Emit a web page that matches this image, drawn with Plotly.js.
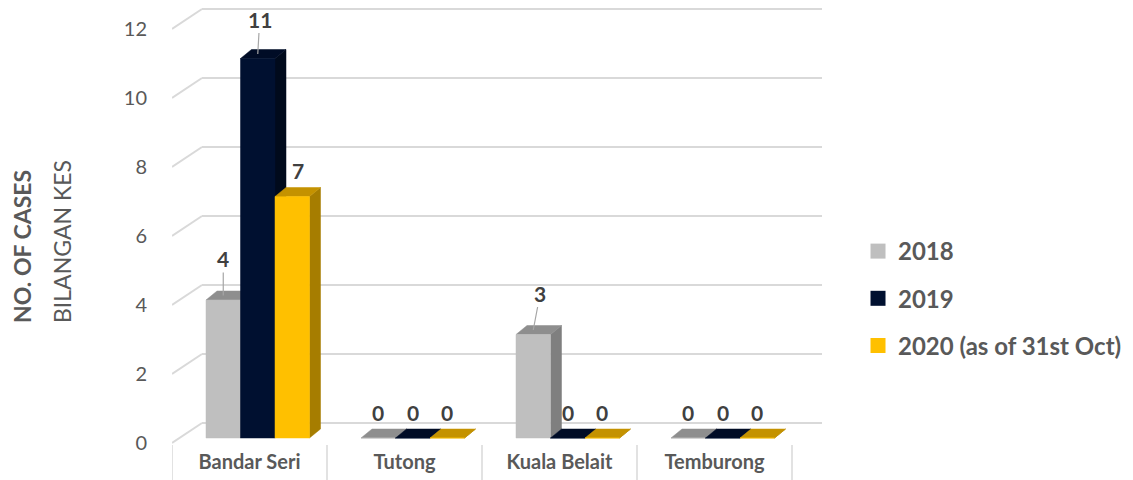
<!DOCTYPE html>
<html><head><meta charset="utf-8">
<script src="https://cdn.plot.ly/plotly-3.0.1.min.js"></script>
<style>html,body{margin:0;padding:0;background:#fff}#chart{width:1133px;height:480px}</style>
</head><body><div id="chart"></div>
<script>
// ---- data ----
const categories = ['Bandar Seri', 'Tutong', 'Kuala Belait', 'Temburong'];
const seriesNames = ['2018', '2019', '2020 (as of 31st Oct)'];
const values2018 = [4, 0, 3, 0];
const values2019 = [11, 0, 0, 0];
const values2020 = [7, 0, 0, 0];
const yTickValues = [0, 2, 4, 6, 8, 10, 12];

// ---- styling ----
const seriesValues = [values2018, values2019, values2020];
const colors = [
  {front: '#BFBFBF', top: '#8E8E8E', side: '#7F7F7F'},
  {front: '#001030', top: '#000C26', side: '#000A1C'},
  {front: '#FFC000', top: '#C49200', side: '#A67D00'}
];
const FONT = 'Lato, "Open Sans", sans-serif';
const PXX = 155, PXY = 34.5;           // pixels per data unit
const BAR_W = 34.5 / PXX;
const FIRST_LEFT = -0.2806;
const BDX = 11 / PXX, BDY = 9 / PXY;    // bar depth
const WALL_DX = 30 / PXX;
const FRONT_Y0 = -5 / PXY, BACK_Y0 = 15 / PXY;

function faces(k, face) {
  const xs = [], ys = [];
  seriesValues[k].forEach((v, i) => {
    const x0 = i + FIRST_LEFT + k * BAR_W, x1 = x0 + BAR_W;
    let px, py;
    if (face === 'front') { px = [x0, x1, x1, x0]; py = [0, 0, v, v]; }
    else if (face === 'top') { px = [x0, x1, x1 + BDX, x0 + BDX]; py = [v, v, v + BDY, v + BDY]; }
    else { px = [x1, x1 + BDX, x1 + BDX, x1]; py = [0, BDY, v + BDY, v]; }
    xs.push(...px, px[0], null); ys.push(...py, py[0], null);
  });
  return {x: xs, y: ys};
}

const traces = [];
seriesValues.forEach((vals, k) => {
  ['side', 'top', 'front'].forEach(face => {
    const p = faces(k, face);
    traces.push({
      type: 'scatter', mode: 'lines', x: p.x, y: p.y, fill: 'toself',
      fillcolor: colors[k][face], line: {width: 0.5, color: colors[k][face]},
      hoverinfo: 'skip', showlegend: false
    });
  });
});
seriesNames.forEach((name, k) => {
  traces.push({
    type: 'scatter', mode: 'markers', x: [null], y: [null], name: name,
    legendgroup: 'g' + k,
    marker: {symbol: 'square', size: 15, color: colors[k].front}
  });
});

// gridlines (3D wall) and category dividers
const shapes = [];
yTickValues.forEach(v => {
  shapes.push({type: 'line', layer: 'below', xref: 'x', yref: 'y',
    x0: -0.5, y0: v + FRONT_Y0, x1: -0.5 + WALL_DX, y1: v + BACK_Y0,
    line: {color: '#D9D9D9', width: 2}});
  shapes.push({type: 'line', layer: 'below', xref: 'x', yref: 'y',
    x0: -0.5 + WALL_DX, y0: v + BACK_Y0, x1: categories.length - 0.5 + WALL_DX, y1: v + BACK_Y0,
    line: {color: '#D9D9D9', width: 2}});
});
for (let i = 0; i <= categories.length; i++) {
  shapes.push({type: 'line', layer: 'below', xref: 'x', yref: 'paper',
    x0: i - 0.5, x1: i - 0.5, y0: 0.011, y1: -0.07,
    line: {color: '#D9D9D9', width: 1.5}});
}

// data labels
const leader = { '0-0': {ax: 0, ay: -37}, '1-0': {ax: 2, ay: -35}, '0-2': {ax: 7, ay: -37} };
const labelShift = { '2-0': 6 };
const annotations = [];
seriesValues.forEach((vals, k) => {
  vals.forEach((v, i) => {
    const cx = i + FIRST_LEFT + k * BAR_W + BAR_W / 2;
    const key = k + '-' + i;
    const font = {family: FONT, size: 21, color: '#404040', weight: 700};
    if (leader[key]) {
      annotations.push({x: cx, y: v + BDY / 2, xref: 'x', yref: 'y', text: '<b>' + v + '</b>',
        showarrow: true, arrowhead: 0, arrowwidth: 1.2, arrowcolor: '#A6A6A6',
        ax: leader[key].ax, ay: leader[key].ay, standoff: 0, font: font});
    } else {
      annotations.push({x: cx, y: v, xref: 'x', yref: 'y', text: '<b>' + v + '</b>',
        showarrow: false, yshift: 26, xshift: labelShift[key] || 0, font: font});
    }
  });
});
annotations.push({xref: 'paper', yref: 'paper', x: -0.2308, y: 0.4533, xanchor: 'center', yanchor: 'middle',
  text: '<b>NO. OF CASES</b>', textangle: -90, showarrow: false,
  font: {family: FONT, size: 23, color: '#595959'}});
annotations.push({xref: 'paper', yref: 'paper', x: -0.1692, y: 0.4622, xanchor: 'center', yanchor: 'middle',
  text: 'BILANGAN KES', textangle: -90, showarrow: false,
  font: {family: FONT, size: 23, color: '#595959'}});

const layout = {
  width: 1133, height: 480,
  margin: {l: 172, r: 311, t: 0, b: 30},
  paper_bgcolor: '#FFFFFF', plot_bgcolor: 'rgba(0,0,0,0)',
  showlegend: true,
  legend: {x: 1.0554, xanchor: 'left', y: 0.4911, yanchor: 'top', tracegroupgap: 13,
    traceorder: 'grouped',
    font: {family: FONT, size: 24, color: '#595959', weight: 700}},
  xaxis: {range: [-0.5, categories.length - 0.5 + WALL_DX], tickvals: categories.map((c, i) => i),
    ticktext: categories, ticks: '', ticklabelstandoff: -2,
    showgrid: false, zeroline: false, showline: false, fixedrange: true,
    tickfont: {family: FONT, size: 20, color: '#595959', weight: 700}},
  yaxis: {range: [-12 / PXY, -12 / PXY + 450 / PXY], tickvals: yTickValues.map(v => v + FRONT_Y0),
    ticktext: yTickValues.map(String), ticks: 'outside', ticklen: 20, tickcolor: 'rgba(0,0,0,0)',
    showgrid: false, zeroline: false, showline: false, fixedrange: true,
    tickfont: {family: FONT, size: 20, color: '#595959'}},
  shapes: shapes,
  annotations: annotations
};

Plotly.newPlot('chart', traces, layout, {displayModeBar: false, staticPlot: true});
</script>
</body></html>
